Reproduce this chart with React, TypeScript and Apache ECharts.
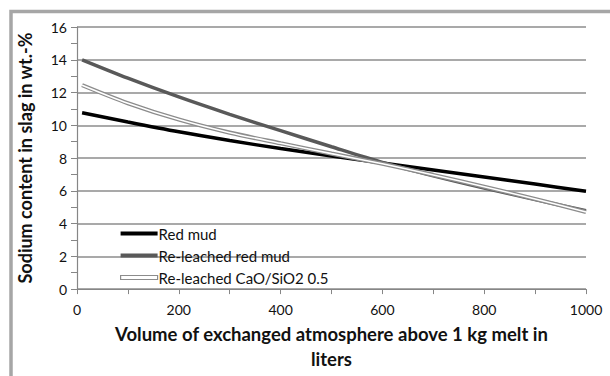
import React, { useEffect, useRef } from "react";
import * as echarts from "echarts";

const xValues = [10, 100, 200, 300, 400, 500, 600, 700, 800, 900, 1000];
const seriesNames = ["Red mud", "Re-leached red mud", "Re-leached CaO/SiO2 0.5"];
const redMud = [10.77, 10.2, 9.6, 9.07, 8.58, 8.13, 7.7, 7.27, 6.84, 6.41, 5.97];
const releachedRedMud = [14.0, 12.88, 11.73, 10.67, 9.67, 8.69, 7.74, 6.92, 6.17, 5.46, 4.79];
const releachedCaO = [12.45, 11.35, 10.35, 9.55, 8.9, 8.27, 7.65, 6.97, 6.25, 5.5, 4.71];
const yTitle = "Sodium content in slag in wt.-%";
const xTitle = "Volume of exchanged atmosphere above 1 kg melt in\nliters";

const FONT = "Lato";

function pairs(ys: number[]) {
  return xValues.map((x, i) => [x, ys[i]]);
}

export default function App() {
  const ref = useRef<HTMLDivElement>(null);
  useEffect(() => {
    if (!ref.current) return;
    const chart = echarts.init(ref.current, undefined, { renderer: "svg" });
    const lineBase = {
      type: "line",
      smooth: 0.3,
      showSymbol: false,
    };
    chart.setOption({
      animation: false,
      backgroundColor: "#ffffff",
      textStyle: { fontFamily: FONT },
      grid: { left: 77, right: 24, top: 27, bottom: 78.5 },
      graphic: [
        {
          type: "rect",
          shape: { x: 11, y: 11.5, width: 700, height: 500 },
          style: { fill: "none", stroke: "#a6a6a6", lineWidth: 3.5 },
          silent: true,
        },
      ],
      legend: {
        orient: "vertical",
        left: 115,
        top: 221,
        itemWidth: 37,
        itemHeight: 4,
        itemGap: 7,
        textStyle: { fontFamily: FONT, fontSize: 15, color: "#111", padding: [0, 0, 0, -4] },
        data: [
          { name: seriesNames[0], icon: "rect", itemStyle: { color: "#000" } },
          { name: seriesNames[1], icon: "rect", itemStyle: { color: "#595959" } },
          {
            name: seriesNames[2],
            icon: "rect",
            itemStyle: { color: "#ffffff", borderColor: "#8c8c8c", borderWidth: 1.2 },
          },
        ],
      },
      xAxis: {
        type: "value",
        min: 0,
        max: 1000,
        interval: 200,
        name: xTitle,
        nameLocation: "middle",
        nameGap: 22,
        nameTextStyle: {
          fontFamily: FONT,
          fontSize: 18.5,
          fontWeight: "bold",
          color: "#111",
          lineHeight: 25,
          verticalAlign: "top",
        },
        axisLine: { show: true, lineStyle: { color: "#868686", width: 1.2 } },
        axisTick: { show: true, length: 5, lineStyle: { color: "#868686" } },
        minorTick: { show: true, splitNumber: 2, length: 5, lineStyle: { color: "#868686" } },
        axisLabel: {
          fontFamily: FONT,
          fontSize: 14,
          color: "#111",
          margin: 13,
          formatter: (v: number) => String(v),
        },
        splitLine: { show: false },
      },
      yAxis: {
        type: "value",
        min: 0,
        max: 16,
        interval: 2,
        name: yTitle,
        nameLocation: "middle",
        nameGap: 43,
        nameTextStyle: { fontFamily: FONT, fontSize: 18, fontWeight: "bold", color: "#111" },
        axisLine: { show: true, lineStyle: { color: "#868686", width: 1.2 } },
        axisTick: { show: true, length: 6, lineStyle: { color: "#868686" } },
        minorTick: { show: true, splitNumber: 2, length: 6, lineStyle: { color: "#868686" } },
        axisLabel: { fontFamily: FONT, fontSize: 14, color: "#111", margin: 10 },
        splitLine: { show: true, lineStyle: { color: "#8c8c8c", width: 1.5 } },
      },
      series: [
        {
          ...lineBase,
          name: seriesNames[0],
          data: pairs(redMud),
          itemStyle: { color: "#000" },
          lineStyle: { color: "#000", width: 3.5 },
          z: 2,
        },
        {
          ...lineBase,
          name: seriesNames[1],
          data: pairs(releachedRedMud),
          itemStyle: { color: "#595959" },
          lineStyle: { color: "#595959", width: 3.5 },
          z: 3,
        },
        {
          ...lineBase,
          name: seriesNames[2],
          data: pairs(releachedCaO),
          itemStyle: { color: "#8c8c8c" },
          lineStyle: { color: "#8c8c8c", width: 4.2 },
          z: 4,
        },
        {
          ...lineBase,
          name: seriesNames[2] + " inner",
          data: pairs(releachedCaO),
          itemStyle: { color: "#ffffff" },
          lineStyle: { color: "#ffffff", width: 1.6 },
          z: 5,
        },
      ],
    });
    return () => chart.dispose();
  }, []);
  return (
    <div
      ref={ref}
      style={{ position: "fixed", left: 0, top: 0, width: 610, height: 376, background: "#fff" }}
    />
  );
}
